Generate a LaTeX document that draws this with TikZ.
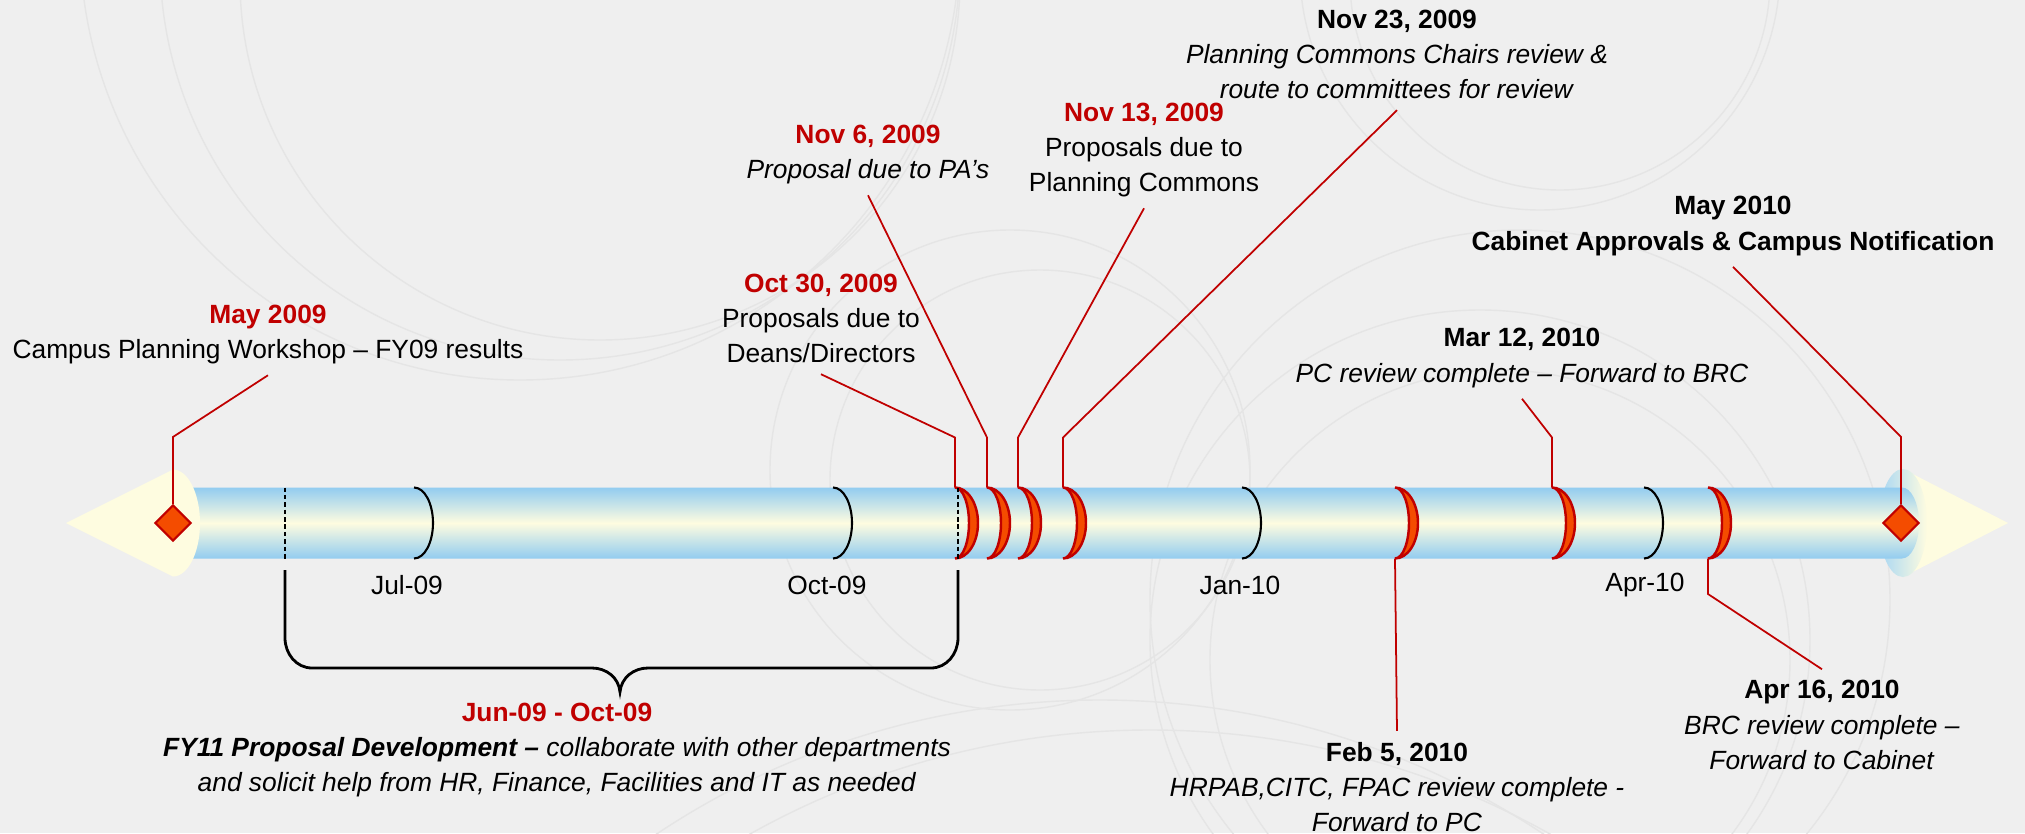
\documentclass[tikz,border=0pt]{standalone}
\usepackage{fontspec}
\setmainfont{Liberation Sans}
\usetikzlibrary{shapes.geometric}

\definecolor{datered}{RGB}{192,0,0}
\definecolor{tubeblue}{RGB}{146,204,240}
\definecolor{tubecream}{RGB}{254,252,224}
\definecolor{markfill}{RGB}{244,76,0}
\definecolor{bggray}{RGB}{239,239,239}
\definecolor{swirl}{RGB}{229,229,229}

\tikzset{
  lbl/.style={align=center, font=\fontsize{7.5}{10}\selectfont, inner sep=3pt},
  month/.style={font=\fontsize{7.5}{9}\selectfont, inner sep=1pt},
  conn/.style={datered, line width=0.5pt},
  tick/.style={black, line width=0.6pt},
  redtick/.style={draw=datered, fill=markfill, line width=0.7pt},
  marker/.style={diamond, draw=datered, fill=markfill, line width=0.6pt,
    minimum size=0.36cm, inner sep=0pt},
}

\begin{document}
\begin{tikzpicture}
  % Fondo
  \fill[bggray] (0,0) rectangle (20.25,8.33);
  \useasboundingbox (0,0) rectangle (20.25,8.33);
  \begin{scope}
    \clip (0,0) rectangle (20.25,8.33);
    \draw[swirl] (5.2,8.93) circle (4.4);
    \draw[swirl] (5.6,8.73) circle (4.0);
    \draw[swirl] (6.0,8.53) circle (3.6);
    \draw[swirl] (10.1,3.63) circle (2.4);
    \draw[swirl] (10.4,3.53) circle (2.1);
    \draw[swirl] (15.4,8.63) circle (2.4);
    \draw[swirl] (15.6,8.53) circle (2.1);
    \draw[swirl] (14.8,1.93) circle (3.3);
    \draw[swirl] (15.0,1.73) circle (2.9);
    \draw[swirl] (15.2,2.33) circle (3.7);
    \draw[swirl] (11.0,-6.67) circle (8.0);
    \draw[swirl] (11.5,-7.17) circle (8.2);
  \end{scope}

  % Puntas de flecha
  \fill[tubecream] (19.03,3.64) -- (20.08,3.10) -- (19.03,2.56) -- cycle;
  \shade[left color=tubeblue!80, right color=tubecream]
    (19.03,3.10) ellipse [x radius=0.24, y radius=0.54];

  % Tubo
  \shade[top color=tubeblue, bottom color=tubeblue, middle color=tubecream]
    (1.73,2.745) -- (19.02,2.745)
    arc[start angle=-90, end angle=90, x radius=0.17, y radius=0.355]
    -- (1.73,3.455) -- cycle;
  \fill[tubecream] (0.66,3.10) -- (1.73,3.635)
    arc[start angle=90, end angle=-90, x radius=0.27, y radius=0.535] -- cycle;

  % Meses
  \foreach \x in {4.14, 8.33, 12.42, 16.44}
    \draw[tick] (\x,3.455) arc[start angle=90, end angle=-90, x radius=0.19, y radius=0.355];
  \node[month] (jul09) at (4.07,2.48) {Jul-09};
  \node[month] (oct09) at (8.27,2.48) {Oct-09};
  \node[month] (jan10) at (12.40,2.48) {Jan-10};
  \node[month] (apr10) at (16.45,2.48) {Apr-10};

  % Hitos
  \foreach \x/\n in {9.55/oct30, 9.87/nov6, 10.18/nov13, 10.63/nov23,
                     13.95/feb5, 15.52/mar12, 17.08/apr16} {
    \draw[redtick] (\x,3.455)
      arc[start angle=90, end angle=-90, x radius=0.23, y radius=0.355]
      arc[start angle=-90, end angle=90, x radius=0.14, y radius=0.355] -- cycle;
    \coordinate (\n-t) at (\x,3.455);
    \coordinate (\n-b) at (\x,2.745);
  }
  \draw[tick, dash pattern=on 1.3pt off 0.8pt] (2.85,3.455) -- (2.85,2.745);
  \draw[tick, dash pattern=on 1.3pt off 0.8pt] (9.58,3.455) -- (9.58,2.745);

  \node[marker] (start) at (1.73,3.10) {};
  \node[marker] (finish) at (19.01,3.10) {};

  % Llave
  \draw[black, line width=0.8pt] (2.85,2.63) -- (2.85,1.95)
    to[out=-90, in=180] (3.12,1.65) -- (5.92,1.65)
    to[out=0, in=95] (6.20,1.41) to[out=85, in=180] (6.48,1.65)
    -- (9.31,1.65) to[out=0, in=-90] (9.58,1.95) -- (9.58,2.63);

  % Textos
  \node[lbl] (may09) at (2.68,4.985)
    {\textcolor{datered}{\textbf{May 2009}}\\Campus Planning Workshop – FY09 results};
  \node[lbl] (oct30) at (8.21,5.145)
    {\textcolor{datered}{\textbf{Oct 30, 2009}}\\Proposals due to\\Deans/Directors};
  \node[lbl] (nov6) at (8.68,6.785)
    {\textcolor{datered}{\textbf{Nov 6, 2009}}\\\textit{Proposal due to PA's}};
  \node[lbl] (nov13) at (11.44,6.83)
    {\textcolor{datered}{\textbf{Nov 13, 2009}}\\Proposals due to\\Planning Commons};
  \node[lbl] (nov23) at (13.97,7.785)
    {\textbf{Nov 23, 2009}\\\textit{Planning Commons Chairs review \&}\\\textit{route to committees for review}};
  \node[lbl] (may10) at (17.33,6.07)
    {\textbf{May 2010}\\\textbf{Cabinet Approvals \& Campus Notification}};
  \node[lbl] (mar12) at (15.22,4.75)
    {\textbf{Mar 12, 2010}\\\textit{PC review complete – Forward to BRC}};
  \node[lbl] (feb5) at (13.97,0.46)
    {\textbf{Feb 5, 2010}\\\textit{HRPAB,CITC, FPAC review complete -}\\\textit{Forward to PC}};
  \node[lbl] (apr16) at (18.22,1.08)
    {\textbf{Apr 16, 2010}\\\textit{BRC review complete –}\\\textit{Forward to Cabinet}};
  \node[lbl] (jun09) at (5.57,0.83)
    {\textcolor{datered}{\textbf{Jun-09 - Oct-09}}\\
     \textbf{\textit{FY11 Proposal Development –}} \textit{collaborate with other departments}\\
     \textit{and solicit help from HR, Finance, Facilities and IT as needed}};

  % Conectores
  \draw[conn] (may09.south) -- ([yshift=0.67cm]start.north) -- (start.north);
  \draw[conn] (oct30.south) -- ([yshift=0.5cm]oct30-t) -- (oct30-t);
  \draw[conn] (nov6.south) -- ([yshift=0.5cm]nov6-t) -- (nov6-t);
  \draw[conn] (nov13.south) -- ([yshift=0.5cm]nov13-t) -- (nov13-t);
  \draw[conn] (nov23.south) -- ([yshift=0.5cm]nov23-t) -- (nov23-t);
  \draw[conn] (mar12.south) -- ([yshift=0.5cm]mar12-t) -- (mar12-t);
  \draw[conn] (may10.south) -- ([yshift=0.67cm]finish.north) -- (finish.north);
  \draw[conn] (feb5-b) -- (feb5.north);
  \draw[conn] (apr16-b) -- ([yshift=-0.355cm]apr16-b) -- (apr16.north);
\end{tikzpicture}
\end{document}
